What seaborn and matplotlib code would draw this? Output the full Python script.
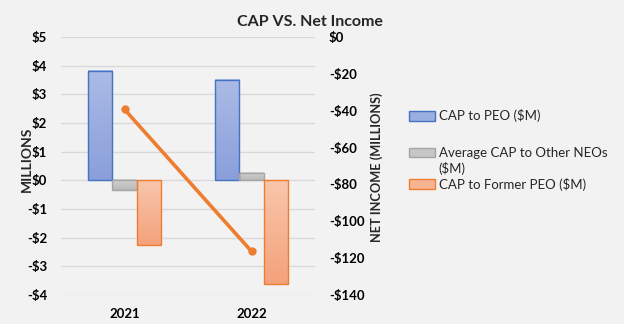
import numpy as np
import pandas as pd
import matplotlib
matplotlib.use("Agg")
import matplotlib.pyplot as plt
from matplotlib.colors import LinearSegmentedColormap
from matplotlib.patches import Rectangle
from matplotlib.ticker import FuncFormatter
import seaborn as sns

# ---- data ----
years = ["2021", "2022"]
series = ["CAP to PEO ($M)", "Average CAP to Other NEOs ($M)", "CAP to Former PEO ($M)"]
cap_peo = [3.81, 3.50]
cap_other_neos = [-0.35, 0.25]
cap_former_peo = [-2.24, -3.60]
net_income = [-39.3, -116.3]

left_ticks = [-4, -3, -2, -1, 0, 1, 2, 3, 4, 5]
right_ticks = [-140, -120, -100, -80, -60, -40, -20, 0]

df = pd.DataFrame({
    "Year": years * 3,
    "Series": [s for s in series for _ in years],
    "Value": cap_peo + cap_other_neos + cap_former_peo,
})

# ---- style ----
BG = "#F2F2F2"
edge_colors = ["#4472C4", "#A5A5A5", "#ED7D31"]
grad_top = ["#ABBBE6", "#D2D2D2", "#F8C6AB"]
grad_bot = ["#8A9FDA", "#B9B9B9", "#F4A27B"]
legend_fill = ["#9AAEE0", "#C6C6C6", "#F6B493"]
LINE = "#ED7D31"

sns.set_style("white")
plt.rcParams["font.family"] = ["Lato", "DejaVu Sans"]

fig = plt.figure(figsize=(6.24, 3.24), dpi=100, facecolor=BG)
ax = fig.add_axes([61 / 624, 29 / 324, 254 / 624, 258 / 324])
ax.set_facecolor(BG)

sns.barplot(data=df, x="Year", y="Value", hue="Series", hue_order=series,
            order=years, width=0.58, ax=ax, legend=False,
            palette=legend_fill, saturation=1)

ax.set_xlim(-0.5, 1.5)
ax.set_ylim(-4, 5)

# gradient fill for each bar
for i, cont in enumerate(ax.containers):
    cmap = LinearSegmentedColormap.from_list(f"g{i}", [grad_bot[i], grad_top[i]])
    for p in cont.patches:
        x0, w = p.get_x(), p.get_width()
        y0, h = p.get_y(), p.get_height()
        ylo, yhi = min(y0, y0 + h), max(y0, y0 + h)
        grad = np.linspace(0, 1, 64).reshape(-1, 1)
        ax.imshow(grad, extent=(x0, x0 + w, ylo, yhi), origin="lower",
                  aspect="auto", cmap=cmap, zorder=2)
        p.set_facecolor("none")
        p.set_edgecolor(edge_colors[i])
        p.set_linewidth(1.0)
        p.set_zorder(3)

ax.set_xlim(-0.5, 1.5)
ax.set_ylim(-4, 5)
ax.set_yticks(left_ticks)
ax.yaxis.set_major_formatter(FuncFormatter(lambda v, _: f"-${abs(v):.0f}" if v < 0 else f"${v:.0f}"))
ax.grid(axis="y", color="#D9D9D9", lw=1.0, zorder=0)
ax.set_axisbelow(True)
for s in ax.spines.values():
    s.set_visible(False)
ax.tick_params(axis="both", length=0, labelsize=9.5, colors="black")
ax.tick_params(axis="y", pad=10)
ax.tick_params(axis="x", pad=9)
for lbl in ax.get_xticklabels() + ax.get_yticklabels():
    lbl.set_fontweight("bold")
ax.set_xlabel("")
ax.set_ylabel("MILLIONS", fontsize=10, fontweight="bold")
ax.yaxis.set_label_coords(-0.112, 0.527)

# ---- net income line on secondary axis ----
ax2 = ax.twinx()
sns.lineplot(x=np.arange(len(years)), y=net_income, ax=ax2, color=LINE,
             lw=2.6, marker="o", markersize=6, markeredgewidth=0, zorder=5)
ax2.set_ylim(-140, 0)
ax2.set_xlim(-0.5, 1.5)
ax2.set_yticks(right_ticks)
ax2.yaxis.set_major_formatter(FuncFormatter(lambda v, _: f"-${abs(v):.0f}" if v < 0 else f"${v:.0f}"))
for s in ax2.spines.values():
    s.set_visible(False)
ax2.tick_params(axis="y", length=0, labelsize=9.5, pad=10, colors="black")
for lbl in ax2.get_yticklabels():
    lbl.set_fontweight("bold")
ax2.set_ylabel("NET INCOME (MILLIONS)", fontsize=9.2, fontweight="bold")
ax2.yaxis.set_label_coords(1.217, 0.496)

# ---- title ----
fig.text(0.497, 1 - 22 / 324, "CAP VS. Net Income", ha="center", va="center",
         fontsize=11.5, fontweight="bold")

# ---- legend ----
def handle(i):
    return Rectangle((0, 0), 1, 1, facecolor=legend_fill[i], edgecolor=edge_colors[i], lw=1)

leg_kw = dict(frameon=False, fontsize=9.5, handlelength=1.95, handleheight=0.7,
              handletextpad=0.3, borderpad=0, borderaxespad=0, loc="center left")
leg1 = fig.legend([handle(0)], [series[0]], bbox_to_anchor=(409 / 624, 1 - 116 / 324), **leg_kw)
invisible = Rectangle((0, 0), 1, 1, facecolor="none", edgecolor="none")
leg2 = fig.legend([handle(1), invisible, handle(2)],
                  ["Average CAP to Other NEOs", "($M)", series[2]],
                  bbox_to_anchor=(409 / 624, 1 - 169 / 324), labelspacing=0.2, **leg_kw)

fig.savefig("out.png", dpi=100, facecolor=BG)
